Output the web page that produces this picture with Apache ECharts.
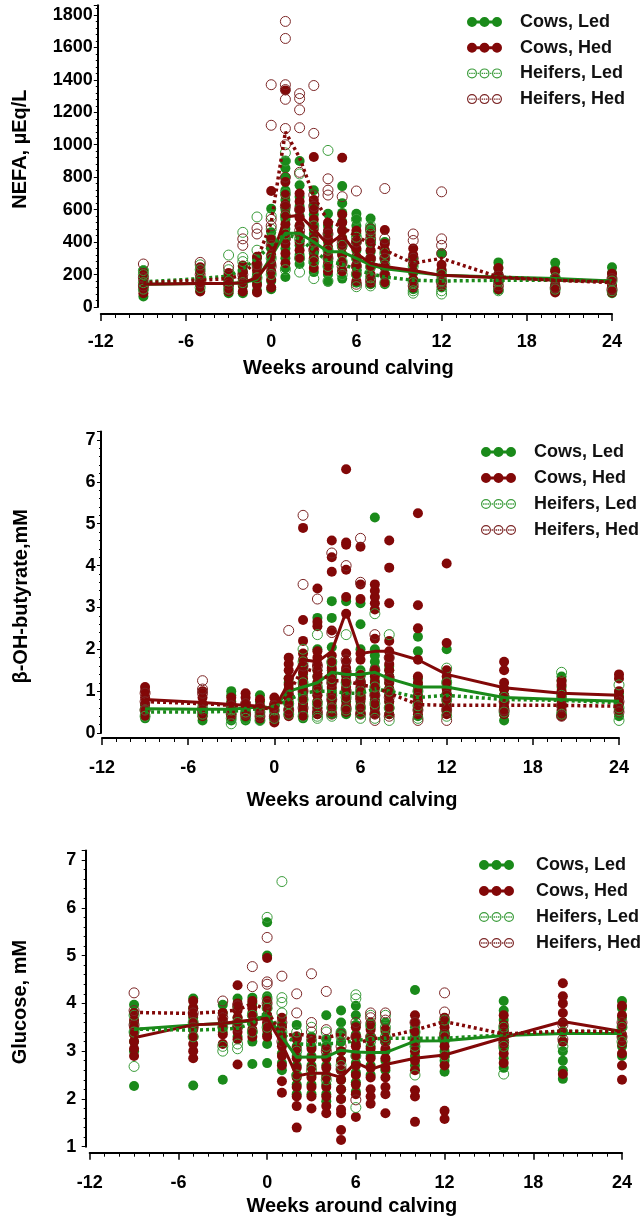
<!DOCTYPE html>
<html>
<head>
<meta charset="utf-8">
<title>NEFA, BHBA and glucose around calving</title>
<script src="https://cdn.jsdelivr.net/npm/echarts@6/dist/echarts.min.js"></script>
<style>
    html, body { margin: 0; padding: 0; background: #fff; }
    #MyChart { width: 643px; height: 1220px; }
</style>
</head>
<body>
<div id="MyChart"></div>
<script>
//weeks around calving (x positions of every column)
var weeks = [-9, -5, -3, -2, -1, 0, 1, 2, 3, 4, 5, 6, 7, 8, 10, 12, 16, 20, 24];
var groupNames = ['Cows, Led', 'Cows, Hed', 'Heifers, Led', 'Heifers, Hed'];

//NEFA, group means
var nefaMeanCowsLed = [140, 145, 145, 150, 170, 310, 455, 455, 400, 340, 340, 300, 260, 235, 215, 195, 185, 175, 160];
var nefaMeanCowsHed = [140, 145, 145, 150, 180, 290, 555, 565, 480, 385, 445, 330, 270, 250, 225, 195, 180, 165, 155];
var nefaMeanHeifLed = [155, 175, 190, 235, 300, 380, 450, 420, 350, 280, 265, 230, 205, 185, 165, 160, 165, 165, 160];
var nefaMeanHeifHed = [150, 165, 175, 200, 290, 520, 1080, 920, 680, 530, 495, 435, 390, 350, 270, 300, 185, 165, 150];

//NEFA, single animals (one list per week)
var nefaPtsCowsLed = [
    [65, 105, 145, 185, 225], [100, 140, 180, 220], [85, 125, 165, 200], [85, 130, 175, 220, 250],
    [100, 150, 200, 250, 300], [110, 160, 210, 260, 310, 360, 410, 460, 606],
    [185, 240, 300, 360, 420, 480, 540, 600, 660, 720, 800, 855, 900],
    [265, 320, 380, 440, 500, 560, 620, 680, 750, 900], [215, 270, 330, 390, 450, 510, 570, 630, 720],
    [155, 200, 250, 300, 350, 400, 450, 500, 575], [175, 225, 275, 325, 375, 425, 475, 525, 580, 640, 745],
    [150, 200, 250, 300, 350, 400, 450, 500, 545, 575], [140, 190, 240, 290, 340, 390, 440, 490, 545],
    [140, 190, 240, 290, 340, 400], [110, 160, 210, 260, 300], [120, 170, 220, 330],
    [105, 150, 200, 240, 275], [95, 140, 185, 230, 272], [85, 130, 175, 210, 245]
];
var nefaPtsCowsHed = [
    [85, 125, 165, 210], [95, 135, 175, 215, 245], [95, 135, 175, 210], [95, 135, 175, 215, 255],
    [90, 135, 180, 225, 270, 310], [120, 170, 220, 270, 320, 370, 420, 715],
    [270, 330, 390, 450, 510, 570, 630, 690, 770, 1335], [300, 350, 400, 450, 500, 550, 600, 650, 700],
    [240, 300, 360, 420, 480, 540, 600, 660, 925], [220, 270, 320, 370, 420, 470, 520],
    [220, 270, 320, 370, 420, 470, 520, 570, 920], [160, 210, 260, 310, 360, 410, 470],
    [150, 200, 250, 300, 350, 400, 450], [150, 200, 250, 300, 350, 390, 475],
    [120, 170, 220, 270, 320, 360], [130, 180, 230, 260], [110, 155, 200, 240], [90, 130, 175, 220], [90, 130, 170, 205]
];
var nefaPtsHeifLed = [
    [110, 150, 200, 225], [120, 170, 230, 260], [110, 160, 230, 320], [150, 280, 305, 460], [180, 350, 555],
    [200, 300, 420, 480, 560], [230, 450, 560, 700, 900, 950], [215, 300, 420, 820], [175, 280, 400, 500],
    [160, 250, 350, 965], [200, 280, 380], [125, 200, 300, 430, 540], [130, 180, 250, 400, 470, 500],
    [150, 260, 330], [85, 100, 150, 250], [80, 100, 160, 200], [100, 160], [110, 180], [100, 160]
];
var nefaPtsHeifHed = [
    [130, 180, 265], [150, 200, 275], [140, 250], [200, 380, 420], [260, 450, 485],
    [250, 380, 500, 540, 1120, 1370], [420, 620, 800, 1000, 1100, 1280, 1340, 1370, 1655, 1760],
    [470, 600, 830, 1105, 1215, 1285, 1315], [350, 620, 690, 1070, 1365], [300, 450, 690, 720, 790],
    [250, 400, 680], [140, 250, 400, 715], [160, 300, 420, 480], [200, 300, 420, 730], [130, 300, 410, 450],
    [150, 330, 380, 420, 710], [130, 190], [120, 170], [110, 175]
];

//β-OH-butyrate, group means
var bhbMeanCowsLed = [0.58, 0.57, 0.57, 0.60, 0.62, 0.60, 1.00, 1.10, 1.20, 1.45, 1.40, 1.40, 1.45, 1.30, 1.10, 1.10, 0.85, 0.80, 0.76];
var bhbMeanCowsHed = [0.80, 0.73, 0.68, 0.66, 0.64, 0.58, 1.20, 1.75, 1.70, 1.95, 2.90, 1.90, 1.95, 1.95, 1.75, 1.40, 1.08, 0.95, 0.90];
var bhbMeanHeifLed = [0.50, 0.50, 0.52, 0.55, 0.58, 0.62, 0.80, 0.95, 1.00, 1.00, 0.95, 0.95, 1.05, 1.00, 0.85, 0.90, 0.80, 0.78, 0.72];
var bhbMeanHeifHed = [0.75, 0.70, 0.66, 0.64, 0.62, 0.55, 0.95, 1.55, 1.45, 1.25, 1.25, 1.15, 1.10, 0.95, 0.68, 0.66, 0.66, 0.66, 0.64];

//β-OH-butyrate, single animals
var bhbPtsCowsLed = [
    [0.35, 0.45, 0.55, 0.65], [0.30, 0.40, 0.50], [0.30, 0.45, 0.60, 0.75, 0.90, 1.00], [0.30, 0.45, 0.60],
    [0.30, 0.45, 0.60, 0.75, 0.90], [0.35, 0.50, 0.65], [0.45, 0.60, 0.75, 0.90, 1.05, 1.20, 1.30],
    [0.35, 0.50, 0.65, 0.80, 0.95, 1.10, 1.25, 1.40, 1.55], [0.45, 0.60, 0.75, 0.90, 1.05, 1.20, 1.35, 1.50, 2.00, 2.75],
    [0.45, 0.60, 0.75, 0.90, 1.05, 1.20, 1.35, 1.50, 1.65, 2.05, 2.75, 3.15], [0.45, 0.60, 0.75, 0.90, 1.05, 1.20, 1.35, 1.50, 3.15],
    [0.45, 0.60, 0.75, 0.90, 1.05, 1.20, 1.35, 1.50, 2.00, 2.60, 3.10],
    [0.50, 0.65, 0.80, 0.95, 1.10, 1.25, 1.40, 1.55, 1.70, 1.85, 2.00, 5.15],
    [0.45, 0.60, 0.75, 0.90, 1.05, 1.20, 1.35, 1.50, 1.60], [0.40, 0.55, 0.70, 0.85, 1.00, 1.15, 1.30, 1.95, 2.30],
    [0.50, 0.65, 0.80, 0.95, 1.10, 1.25, 2.00], [0.30, 0.45, 0.60, 0.75, 0.90, 1.05],
    [0.50, 0.65, 0.80, 0.95, 1.10, 1.25, 1.35], [0.40, 0.55, 0.70, 0.85, 0.95]
];
var bhbPtsCowsHed = [
    [0.40, 0.55, 0.70, 0.85, 1.00, 1.10], [0.40, 0.55, 0.70, 0.85, 1.00], [0.40, 0.55, 0.70, 0.85],
    [0.40, 0.55, 0.70, 0.85, 0.95], [0.35, 0.50, 0.65, 0.80], [0.25, 0.40, 0.55, 0.70, 0.85],
    [0.40, 0.55, 0.70, 0.85, 1.00, 1.15, 1.30, 1.50, 1.65, 1.80],
    [0.40, 0.55, 0.70, 0.85, 1.00, 1.15, 1.30, 1.45, 1.60, 1.75, 1.90, 2.20, 2.70, 4.90],
    [0.45, 0.60, 0.75, 0.90, 1.05, 1.20, 1.35, 1.50, 1.65, 1.80, 1.95, 2.55, 2.65, 3.45],
    [0.50, 0.65, 0.80, 0.95, 1.10, 1.25, 1.40, 1.55, 1.70, 1.85, 2.45, 3.85, 4.20, 4.60],
    [0.50, 0.65, 0.80, 0.95, 1.10, 1.25, 1.40, 1.55, 1.70, 1.90, 2.85, 3.25, 3.90, 4.50, 4.55, 6.30],
    [0.50, 0.65, 0.80, 0.95, 1.10, 1.25, 1.40, 1.75, 1.90, 3.20, 3.55, 4.45],
    [0.45, 0.60, 0.75, 0.90, 1.05, 1.20, 1.35, 1.50, 2.25, 2.95, 3.10, 3.25, 3.40, 3.55],
    [0.45, 0.60, 0.75, 0.90, 1.05, 1.20, 1.35, 1.50, 1.65, 1.80, 1.95, 2.20, 3.10, 3.95, 4.60],
    [0.45, 0.60, 0.75, 0.90, 1.05, 1.20, 1.35, 1.75, 2.50, 3.05, 5.25],
    [0.45, 0.60, 0.75, 0.90, 1.05, 1.20, 1.35, 1.50, 2.15, 4.05],
    [0.45, 0.60, 0.75, 0.90, 1.05, 1.20, 1.50, 1.70], [0.40, 0.55, 0.70, 0.85, 1.00, 1.15, 1.25],
    [0.55, 0.70, 0.85, 1.00, 1.30, 1.40]
];
var bhbPtsHeifLed = [
    [0.40, 0.55], [0.45, 0.60], [0.22, 0.35, 0.55], [0.35, 0.50], [0.30, 0.50], [0.35, 0.55], [0.45, 0.70],
    [0.40, 0.80, 1.20, 1.70, 2.00], [0.35, 0.40, 0.70, 1.10, 2.35], [0.40, 0.60, 0.90, 1.30, 1.70],
    [0.55, 0.85, 1.20, 2.35], [0.35, 0.60, 1.00, 1.40], [0.35, 0.70, 1.10, 2.85], [0.30, 0.60, 1.00, 2.35],
    [0.35, 0.65, 1.00], [0.40, 0.80, 1.20, 1.55], [0.50, 0.85], [0.45, 0.90, 1.45], [0.30, 0.60, 1.15]
];
var bhbPtsHeifHed = [
    [0.55, 0.75, 0.95], [0.55, 0.95, 1.05, 1.25], [0.45, 0.65], [0.45, 0.70], [0.40, 0.60], [0.40, 0.65],
    [0.55, 0.90, 2.45], [0.60, 1.00, 1.60, 3.55, 5.20], [0.50, 1.00, 1.60, 3.20], [0.45, 0.80, 1.20, 2.40, 4.30],
    [0.60, 1.00, 1.45, 1.75, 4.00], [0.45, 0.85, 1.20, 3.60, 4.65], [0.30, 0.45, 0.90, 1.50, 2.35],
    [0.40, 0.85, 1.30, 1.80], [0.30, 0.55, 0.85], [0.30, 0.55, 0.90], [0.55, 0.75], [0.40, 0.65], [0.50, 0.75]
];

//Glucose, group means
var gluMeanCowsLed = [3.46, 3.55, 3.58, 3.60, 3.64, 3.76, 3.30, 2.87, 2.88, 2.88, 3.02, 2.98, 2.97, 2.97, 3.21, 3.22, 3.33, 3.37, 3.37];
var gluMeanCowsHed = [3.28, 3.55, 3.58, 3.62, 3.65, 3.69, 3.16, 2.48, 2.54, 2.54, 2.45, 2.76, 2.62, 2.72, 2.85, 2.92, 3.28, 3.62, 3.41];
var gluMeanHeifLed = [3.46, 3.44, 3.46, 3.48, 3.58, 3.83, 3.37, 3.16, 3.13, 3.16, 3.16, 3.23, 3.25, 3.27, 3.27, 3.27, 3.34, 3.41, 3.41];
var gluMeanHeifHed = [3.81, 3.79, 3.83, 3.86, 4.00, 3.86, 3.30, 3.37, 3.30, 3.28, 3.36, 3.16, 3.25, 3.30, 3.44, 3.62, 3.36, 3.42, 3.41];

//Glucose, single animals
var gluPtsCowsLed = [
    [2.27, 3.00, 3.20, 3.40, 3.60, 3.80, 3.97], [2.28, 3.30, 3.50, 3.70, 3.90, 4.10], [2.40, 3.40, 3.60, 3.80, 3.97],
    [3.30, 3.50, 3.70, 3.90, 4.10], [2.73, 3.20, 3.40, 3.60, 3.80, 4.00, 4.12],
    [2.75, 3.15, 3.35, 3.55, 3.75, 3.95, 4.15, 5.00, 5.70], [2.60, 2.75, 2.95, 3.15, 3.35, 3.55],
    [2.10, 2.30, 2.50, 2.70, 2.90, 3.10, 3.30, 3.55], [2.10, 2.30, 2.50, 2.70, 2.90, 3.10, 3.30],
    [1.95, 2.10, 2.30, 2.50, 2.70, 2.90, 3.10, 3.25, 3.75], [2.00, 2.20, 2.40, 2.60, 2.80, 3.00, 3.20, 3.40, 3.60, 3.85],
    [2.15, 2.35, 2.55, 2.75, 2.95, 3.15, 3.35, 3.55, 3.75, 3.95], [2.50, 2.70, 2.90, 3.10, 3.30, 3.50],
    [2.60, 2.80, 3.00, 3.20, 3.40, 3.60], [2.70, 2.90, 3.10, 3.30, 3.50, 4.28], [2.57, 2.80, 3.00, 3.20, 3.40, 3.60],
    [2.65, 2.85, 3.05, 3.25, 3.45, 3.65, 3.85, 4.05], [2.42, 2.60, 2.80, 3.00, 3.20, 3.40, 3.60],
    [2.90, 3.10, 3.30, 3.50, 3.70, 3.90, 4.05]
];
var gluPtsCowsHed = [
    [2.90, 3.05, 3.20, 3.35, 3.50, 3.65, 3.80], [2.85, 3.00, 3.15, 3.30, 3.45, 3.60, 3.75, 3.90, 4.05],
    [3.15, 3.35, 3.50, 3.65, 3.80], [2.72, 3.25, 3.40, 3.55, 3.70, 3.85, 4.00, 4.38],
    [3.30, 3.45, 3.60, 3.75, 3.90, 4.05], [3.30, 3.45, 3.60, 3.75, 3.90, 4.05, 4.95],
    [2.13, 2.37, 2.70, 2.90, 3.10, 3.30, 3.50, 3.70], [1.40, 1.85, 2.05, 2.25, 2.45, 2.65, 2.85, 3.05, 3.25],
    [1.80, 2.05, 2.25, 2.45, 2.65, 2.85, 3.05, 3.25], [1.70, 1.85, 2.05, 2.25, 2.45, 2.65, 2.85, 3.05],
    [1.14, 1.35, 1.70, 1.78, 2.00, 2.20, 2.40, 2.60, 2.80, 3.00], [1.62, 2.10, 2.30, 2.50, 2.70, 2.90, 3.10, 3.30, 3.50],
    [1.90, 2.05, 2.20, 2.45, 2.65, 2.85, 3.05, 3.25, 3.45, 3.60], [1.70, 2.10, 2.25, 2.45, 2.65, 2.85, 3.05, 3.25, 3.45],
    [1.52, 2.05, 2.18, 2.60, 2.80, 3.00, 3.20, 3.40, 3.60, 3.75], [1.58, 1.75, 2.70, 2.90, 3.10, 3.30, 3.50, 3.70],
    [2.75, 2.95, 3.15, 3.35, 3.55, 3.75], [2.52, 3.20, 3.40, 3.60, 3.80, 4.00, 4.15, 4.42],
    [2.40, 2.70, 2.95, 3.15, 3.35, 3.55, 3.75, 3.95]
];
var gluPtsHeifLed = [
    [2.68, 3.40, 3.75], [3.30, 3.60], [3.00, 3.10, 3.50], [3.05, 3.15, 3.60], [3.40, 3.75], [3.50, 3.90, 4.10, 5.80],
    [3.40, 3.80, 4.02, 4.12, 6.55], [2.50, 3.00, 3.40], [2.60, 3.20, 3.50], [2.40, 3.10, 3.40], [2.70, 3.30, 3.40],
    [1.82, 2.90, 4.10, 4.18], [3.20, 3.55, 3.75], [3.30, 3.50, 3.75], [2.50, 3.10, 3.40], [2.90, 3.30, 3.65],
    [2.52, 3.10, 3.50], [3.10, 3.40], [3.20, 3.50]
];
var gluPtsHeifHed = [
    [3.55, 3.85, 4.22], [3.50, 3.80], [3.70, 4.05], [3.50, 3.95], [3.60, 4.35, 4.77], [3.70, 4.00, 4.40, 4.45, 5.38],
    [3.20, 3.60, 4.57], [3.30, 3.80, 4.20], [3.40, 3.60, 4.62], [3.00, 3.45, 4.25], [2.62, 3.10, 3.35],
    [1.98, 3.30, 3.60], [3.30, 3.70, 3.80], [3.20, 3.65, 3.80], [3.20, 3.60], [3.35, 3.82, 4.22],
    [3.20, 3.40], [3.25, 3.55], [3.30, 3.60]
];

var FONT = '"Liberation Sans", Arial, Helvetica, sans-serif';
var GREEN = '#1a8a1a';
var RED = '#820808';
var GREEN_RING = '#3b9c3b';
var RED_RING = '#7c2626';

//legend icons: three dots on a line, filled (cows) or ringed with dotted line (heifers)
var ICON_FILLED = 'path://M0,5a5,5 0 1,1 10,0a5,5 0 1,1 -10,0z M12.5,5a5,5 0 1,1 10,0a5,5 0 1,1 -10,0z M25,5a5,5 0 1,1 10,0a5,5 0 1,1 -10,0z M5,3.5h25v3h-25z';
var ICON_RING = (function () {
    var p = 'path://';
    [5, 17.5, 30].forEach(function (c) {
        p += 'M' + (c - 5) + ',5a5,5 0 1,1 10,0a5,5 0 1,1 -10,0z ';
        p += 'M' + (c - 3.8) + ',5a3.8,3.8 0 1,0 7.6,0a3.8,3.8 0 1,0 -7.6,0z ';
    });
    [2.8, 5, 7.2, 11.25, 15.3, 17.5, 19.7, 23.75, 27.8, 30, 32.2].forEach(function (x) {
        p += 'M' + (x - 0.7) + ',4.3h1.4v1.4h-1.4z ';
    });
    return p;
})();

//one list per week -> [week, value] pairs
function toPoints(lists) {
    var out = [];
    lists.forEach(function (vals, i) {
        vals.forEach(function (v) { out.push([weeks[i], v]); });
    });
    return out;
}

function toLine(means) {
    return means.map(function (v, i) { return [weeks[i], v]; });
}

//panel layout
var panels = [
    {
        yName: 'NEFA, µEq/L', yMin: 0, yMax: 1860, yInterval: 200, yMinor: 5,
        grid: { left: 100.8, right: 31, top: 5.2, bottom: 913 },
        xOffset: 7, yOffset: 3, labelMargin: 19, yLabelMargin: 5, xNameGap: 44, xNamePad: 16,
        yNameGap: 67, yNamePad: [0, 0, 0, 14],
        legend: { left: 467, top: 12, itemGap: 5.7, textPad: 13 },
        means: [nefaMeanCowsLed, nefaMeanCowsHed, nefaMeanHeifLed, nefaMeanHeifHed],
        pts: [nefaPtsCowsLed, nefaPtsCowsHed, nefaPtsHeifLed, nefaPtsHeifHed]
    },
    {
        yName: 'β-OH-butyrate,mM', yMin: 0, yMax: 7.2, yInterval: 1, yMinor: 5,
        grid: { left: 102, right: 24, top: 431.6, bottom: 487 },
        xOffset: 5, yOffset: 1, labelMargin: 21, yLabelMargin: 5.5, xNameGap: 52, xNamePad: 17,
        yNameGap: 70, yNamePad: [0, 28, 0, 0],
        legend: { left: 481, top: 442, itemGap: 6, textPad: 13 },
        means: [bhbMeanCowsLed, bhbMeanCowsHed, bhbMeanHeifLed, bhbMeanHeifHed],
        pts: [bhbPtsCowsLed, bhbPtsCowsHed, bhbPtsHeifLed, bhbPtsHeifHed]
    },
    {
        yName: 'Glucose, mM', yMin: 1, yMax: 7.2, yInterval: 1, yMinor: 5,
        grid: { left: 89.7, right: 21, top: 850.5, bottom: 73.3 },
        xOffset: 6, yOffset: 4, labelMargin: 21, yLabelMargin: 9.5, xNameGap: 44, xNamePad: 8,
        yNameGap: 55, yNamePad: [0, 7, 0, 0],
        legend: { left: 479, top: 855, itemGap: 6, textPad: 17 },
        means: [gluMeanCowsLed, gluMeanCowsHed, gluMeanHeifLed, gluMeanHeifHed],
        pts: [gluPtsCowsLed, gluPtsCowsHed, gluPtsHeifLed, gluPtsHeifHed]
    }
];

function legendData() {
    return groupNames.map(function (n, g) {
        return {
            name: n,
            icon: g < 2 ? ICON_FILLED : ICON_RING,
            itemStyle: { color: g % 2 === 0 ? (g < 2 ? GREEN : GREEN_RING) : (g < 2 ? RED : RED_RING), borderWidth: 0, opacity: 1 }
        };
    });
}

var grids = [], xAxes = [], yAxes = [], legends = [], series = [];

panels.forEach(function (p, idx) {
    grids.push(p.grid);
    xAxes.push({
        type: 'value', gridIndex: idx, min: -12, max: 24, interval: 6, offset: p.xOffset,
        axisLine: { onZero: false, lineStyle: { color: '#000', width: 2 } },
        axisTick: { length: 7, lineStyle: { color: '#000', width: 1.5 } },
        minorTick: { show: true, splitNumber: 6, length: 4, lineStyle: { color: '#000', width: 1 } },
        splitLine: { show: false },
        axisLabel: { margin: p.labelMargin, color: '#000', fontSize: 18, fontWeight: 'bold', fontFamily: FONT },
        name: 'Weeks around calving', nameLocation: 'middle', nameGap: p.xNameGap,
        nameTextStyle: { color: '#000', fontSize: 20, fontWeight: 'bold', fontFamily: FONT, padding: [0, p.xNamePad, 0, 0] }
    });
    yAxes.push({
        type: 'value', gridIndex: idx, min: p.yMin, max: p.yMax, interval: p.yInterval, offset: p.yOffset,
        axisLine: { show: true, onZero: false, lineStyle: { color: '#000', width: 2 } },
        axisTick: { show: true, length: 4, lineStyle: { color: '#000', width: 1 } },
        minorTick: { show: true, splitNumber: p.yMinor, length: 2, lineStyle: { color: '#000', width: 1 } },
        splitLine: { show: false },
        axisLabel: {
            margin: p.yLabelMargin, showMaxLabel: false, color: '#000', fontSize: 18, fontWeight: 'bold', fontFamily: FONT,
            formatter: function (v) { return String(v); }
        },
        name: p.yName, nameLocation: 'middle', nameGap: p.yNameGap,
        nameTextStyle: { color: '#000', fontSize: 20, fontWeight: 'bold', fontFamily: FONT, padding: p.yNamePad }
    });
    legends.push({
        left: p.legend.left, top: p.legend.top, orient: 'vertical', padding: 0,
        itemWidth: 35, itemHeight: 10, itemGap: p.legend.itemGap, selectedMode: false,
        textStyle: { color: '#111', fontSize: 18, fontWeight: 'bold', fontFamily: FONT, lineHeight: 20, padding: [0, 0, 0, p.legend.textPad] },
        data: legendData()
    });

    //single animals: cows filled, heifers as rings
    groupNames.forEach(function (n, g) {
        var heifer = g >= 2;
        var col = g % 2 === 0 ? GREEN : RED;
        var ring = g % 2 === 0 ? GREEN_RING : RED_RING;
        series.push({
            type: 'scatter', name: n, xAxisIndex: idx, yAxisIndex: idx, z: 2, silent: true,
            symbol: 'circle', symbolSize: heifer ? 10 : 10,
            itemStyle: heifer ?
                { color: 'rgba(255,255,255,0)', borderColor: ring, borderWidth: 1, opacity: 1 } :
                { color: col, opacity: 1 },
            data: toPoints(p.pts[g])
        });
    });
    //group means
    groupNames.forEach(function (n, g) {
        var col = g % 2 === 0 ? GREEN : RED;
        series.push({
            type: 'line', name: n + ' mean', xAxisIndex: idx, yAxisIndex: idx, z: 3, silent: true,
            symbol: 'none', showSymbol: false,
            lineStyle: { color: col, width: g >= 2 ? 3.5 : 3, type: g >= 2 ? [3, 3] : 'solid' },
            data: toLine(p.means[g])
        });
    });
});

var myChart = echarts.init(document.getElementById('MyChart'));
myChart.setOption({
    animation: false,
    backgroundColor: '#fff',
    grid: grids,
    xAxis: xAxes,
    yAxis: yAxes,
    legend: legends,
    series: series
});
</script>
</body>
</html>
